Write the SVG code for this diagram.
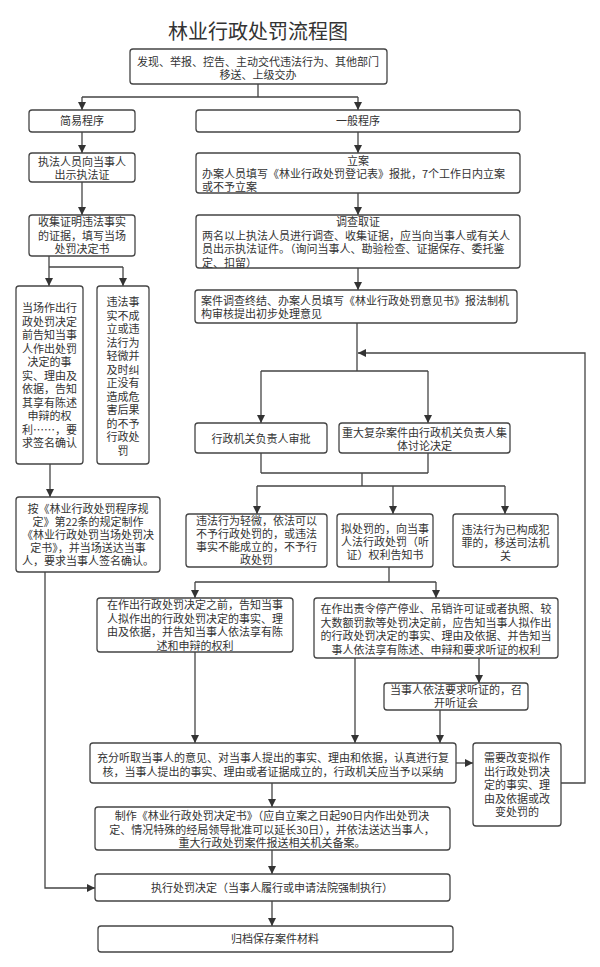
<svg xmlns="http://www.w3.org/2000/svg" width="600" height="967" viewBox="0 0 600 967">
<defs>
<marker id="arr" markerWidth="8" markerHeight="8" refX="8" refY="4" orient="auto" markerUnits="userSpaceOnUse"><path d="M0,0 L8,4 L0,8 z" fill="#333"/></marker>
<style>
.b{fill:#fff;stroke:#444;stroke-width:1.3}
.t{font-family:"Noto Sans CJK SC","Noto Sans",sans-serif;font-size:11px;fill:#333}
.c{text-anchor:middle}
.l{fill:none;stroke:#444;stroke-width:1.3}
.a{fill:none;stroke:#444;stroke-width:1.3;marker-end:url(#arr)}
</style>
</defs>
<rect width="600" height="967" fill="#fff"/>
<text x="258" y="39" style="font-family:'Noto Sans CJK SC',sans-serif;font-size:20px;fill:#333" text-anchor="middle">林业行政处罚流程图</text>

<g id="connectors">
<path class="l" d="M258,84 V97 M82,97 H358"/>
<path class="a" d="M82,97 V110"/>
<path class="a" d="M358,97 V110"/>
<path class="a" d="M82,132 V153"/>
<path class="a" d="M82,182 V215"/>
<path class="a" d="M358,132 V153"/>
<path class="a" d="M358,193 V215"/>
<path class="l" d="M49,267 H123"/>
<path class="a" d="M49,256 V286"/>
<path class="a" d="M123,267 V286"/>
<path class="a" d="M50,464 V497"/>
<path class="a" d="M358,268 V290"/>
<path class="l" d="M357,323 V371 M261,371 H428"/>
<path class="a" d="M261,371 V423"/>
<path class="a" d="M428,371 V423"/>
<path class="l" d="M261,453 V473 M428,453 V473 M261,473 H428 M362,473 V486 M257,486 H505"/>
<path class="a" d="M257,486 V514"/>
<path class="a" d="M393,486 V514"/>
<path class="a" d="M505,486 V514"/>
<path class="l" d="M389,567 V582 M195,582 H436"/>
<path class="a" d="M195,582 V598"/>
<path class="a" d="M436,582 V598"/>
<path class="a" d="M195,652 V743"/>
<path class="a" d="M355,658 V743"/>
<path class="a" d="M479,658 V683"/>
<path class="a" d="M440,710 V743"/>
<path class="a" d="M456,763 H473"/>
<path class="a" d="M561,783 H585 V353 H358"/>
<path class="a" d="M272,783 V807"/>
<path class="a" d="M272,850 V874"/>
<path class="a" d="M272,901 V926"/>
<path class="a" d="M45,572 V888 H95"/>
</g>

<g id="n_source">
<rect class="b" x="130" y="49" width="257" height="35" rx="3"/>
<text class="t c" x="258"><tspan x="258" y="66">发现、举报、控告、主动交代违法行为、其他部门</tspan><tspan x="258" y="79">移送、上级交办</tspan></text>
</g>
<g id="n_simple">
<rect class="b" x="29" y="110" width="106" height="22" rx="3"/>
<text class="t c" x="82" y="125">简易程序</text>
</g>
<g id="n_general">
<rect class="b" x="196" y="110" width="324" height="22" rx="3"/>
<text class="t c" x="358" y="125">一般程序</text>
</g>
<g id="n_show">
<rect class="b" x="29" y="153" width="106" height="29" rx="3"/>
<text class="t c"><tspan x="82" y="166">执法人员向当事人</tspan><tspan x="82" y="179">出示执法证</tspan></text>
</g>
<g id="n_collect">
<rect class="b" x="29" y="215" width="106" height="41" rx="3"/>
<text class="t c"><tspan x="82" y="226">收集证明违法事实</tspan><tspan x="82" y="239.5">的证据，填写当场</tspan><tspan x="82" y="253">处罚决定书</tspan></text>
</g>
<g id="n_file">
<rect class="b" x="196" y="153" width="324" height="40" rx="3"/>
<text class="t c" x="358" y="165">立案</text>
<text class="t"><tspan x="202" y="178">办案人员填写《林业行政处罚登记表》报批，7个工作日内立案</tspan><tspan x="202" y="191">或不予立案</tspan></text>
</g>
<g id="n_investigate">
<rect class="b" x="196" y="215" width="324" height="53" rx="3"/>
<text class="t c" x="358" y="226">调查取证</text>
<text class="t"><tspan x="202" y="240">两名以上执法人员进行调查、收集证据，应当向当事人或有关人</tspan><tspan x="202" y="253">员出示执法证件。（询问当事人、勘验检查、证据保存、委托鉴</tspan><tspan x="202" y="266.5">定、扣留）</tspan></text>
</g>
<g id="n_onsite">
<rect class="b" x="16" y="286" width="67" height="178" rx="3"/>
<text class="t c"><tspan x="49.5" y="312">当场作出行</tspan><tspan x="49.5" y="325.5">政处罚决定</tspan><tspan x="49.5" y="339">前告知当事</tspan><tspan x="49.5" y="352.5">人作出处罚</tspan><tspan x="49.5" y="366">决定的事</tspan><tspan x="49.5" y="379.5">实、理由及</tspan><tspan x="49.5" y="393">依据，告知</tspan><tspan x="49.5" y="406.5">其享有陈述</tspan><tspan x="49.5" y="420">申辩的权</tspan><tspan x="49.5" y="433.5">利……，要</tspan><tspan x="49.5" y="447">求签名确认</tspan></text>
</g>
<g id="n_nopenalty_simple">
<rect class="b" x="97" y="286" width="52" height="178" rx="3"/>
<text class="t c"><tspan x="123" y="306">违法事</tspan><tspan x="123" y="319.5">实不成</tspan><tspan x="123" y="333">立或违</tspan><tspan x="123" y="346.5">法行为</tspan><tspan x="123" y="360">轻微并</tspan><tspan x="123" y="373.5">及时纠</tspan><tspan x="123" y="387">正没有</tspan><tspan x="123" y="400.5">造成危</tspan><tspan x="123" y="414">害后果</tspan><tspan x="123" y="427.5">的不予</tspan><tspan x="123" y="441">行政处</tspan><tspan x="123" y="454.5">罚</tspan></text>
</g>
<g id="n_conclude">
<rect class="b" x="195" y="290" width="322" height="33" rx="3"/>
<text class="t"><tspan x="201" y="305">案件调查终结、办案人员填写《林业行政处罚意见书》报法制机</tspan><tspan x="201" y="318">构审核提出初步处理意见</tspan></text>
</g>
<g id="n_approve">
<rect class="b" x="195" y="423" width="132" height="30" rx="3"/>
<text class="t c" x="261" y="443">行政机关负责人审批</text>
</g>
<g id="n_collective">
<rect class="b" x="339" y="423" width="171" height="30" rx="3"/>
<text class="t c"><tspan x="424.5" y="437">重大复杂案件由行政机关负责人集</tspan><tspan x="424.5" y="450">体讨论决定</tspan></text>
</g>
<g id="n_decision_form">
<rect class="b" x="16" y="497" width="144" height="75" rx="3"/>
<text class="t c"><tspan x="88" y="513">按《林业行政处罚程序规</tspan><tspan x="88" y="526">定》第22条的规定制作</tspan><tspan x="88" y="539">《林业行政处罚当场处罚决</tspan><tspan x="88" y="552">定书》，并当场送达当事</tspan><tspan x="88" y="565">人，要求当事人签名确认。</tspan></text>
</g>
<g id="n_minor">
<rect class="b" x="186" y="514" width="141" height="53" rx="3"/>
<text class="t c"><tspan x="256.5" y="525">违法行为轻微，依法可以</tspan><tspan x="256.5" y="538">不予行政处罚的，或违法</tspan><tspan x="256.5" y="551">事实不能成立的，不予行</tspan><tspan x="256.5" y="564">政处罚</tspan></text>
</g>
<g id="n_notice">
<rect class="b" x="337" y="514" width="96" height="53" rx="3"/>
<text class="t c"><tspan x="385" y="533">拟处罚的，向当事</tspan><tspan x="385" y="546">人法行政处罚（听</tspan><tspan x="385" y="559">证）权利告知书</tspan></text>
</g>
<g id="n_crime">
<rect class="b" x="453" y="514" width="105" height="53" rx="3"/>
<text class="t c"><tspan x="505.5" y="534">违法行为已构成犯</tspan><tspan x="505.5" y="547">罪的，移送司法机</tspan><tspan x="505.5" y="560">关</tspan></text>
</g>
<g id="n_inform">
<rect class="b" x="97" y="598" width="196" height="54" rx="3"/>
<text class="t c"><tspan x="195" y="609">在作出行政处罚决定之前，告知当事</tspan><tspan x="195" y="622.5">人拟作出的行政处罚决定的事实、理</tspan><tspan x="195" y="636">由及依据，并告知当事人依法享有陈</tspan><tspan x="195" y="649.5">述和申辩的权利</tspan></text>
</g>
<g id="n_inform_hearing">
<rect class="b" x="314" y="598" width="244" height="60" rx="3"/>
<text class="t c"><tspan x="436" y="613">在作出责令停产停业、吊销许可证或者执照、较</tspan><tspan x="436" y="626.5">大数额罚款等处罚决定前，应告知当事人拟作出</tspan><tspan x="436" y="640">的行政处罚决定的事实、理由及依据、并告知当</tspan><tspan x="436" y="653.5">事人依法享有陈述、申辩和要求听证的权利</tspan></text>
</g>
<g id="n_hearing">
<rect class="b" x="384" y="683" width="144" height="27" rx="3"/>
<text class="t c"><tspan x="456" y="694">当事人依法要求听证的，召</tspan><tspan x="456" y="707">开听证会</tspan></text>
</g>
<g id="n_review">
<rect class="b" x="90" y="743" width="366" height="40" rx="3"/>
<text class="t c"><tspan x="273" y="762">充分听取当事人的意见、对当事人提出的事实、理由和依据，认真进行复</tspan><tspan x="273" y="776">核，当事人提出的事实、理由或者证据成立的，行政机关应当予以采纳</tspan></text>
</g>
<g id="n_change">
<rect class="b" x="473" y="743" width="88" height="83" rx="3"/>
<text class="t c"><tspan x="517" y="762">需要改变拟作</tspan><tspan x="517" y="775.5">出行政处罚决</tspan><tspan x="517" y="789">定的事实、理</tspan><tspan x="517" y="802.5">由及依据或改</tspan><tspan x="517" y="816">变处罚的</tspan></text>
</g>
<g id="n_make">
<rect class="b" x="95" y="807" width="355" height="43" rx="3"/>
<text class="t c"><tspan x="272" y="820">制作《林业行政处罚决定书》（应自立案之日起90日内作出处罚决</tspan><tspan x="272" y="833.5">定、情况特殊的经局领导批准可以延长30日），并依法送达当事人，</tspan><tspan x="272" y="847">重大行政处罚案件报送相关机关备案。</tspan></text>
</g>
<g id="n_execute">
<rect class="b" x="95" y="874" width="355" height="27" rx="3"/>
<text class="t c" x="272" y="892">执行处罚决定（当事人履行或申请法院强制执行）</text>
</g>
<g id="n_archive">
<rect class="b" x="98" y="926" width="355" height="26" rx="3"/>
<text class="t c" x="275" y="943">归档保存案件材料</text>
</g>
</svg>
